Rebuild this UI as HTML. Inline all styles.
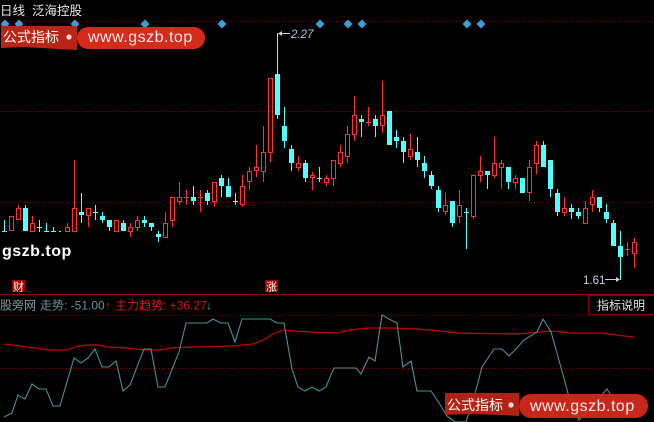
<!DOCTYPE html>
<html><head><meta charset="utf-8"><style>
html,body{margin:0;padding:0;background:#000;}
svg{display:block;}
text{font-family:"Liberation Sans","Noto Sans CJK SC",sans-serif;}
</style></head><body>
<svg width="654" height="422" viewBox="0 0 654 422" xmlns="http://www.w3.org/2000/svg">
<rect width="654" height="422" fill="#000"/>
<g stroke="#a00000" stroke-width="1" stroke-dasharray="1 2" shape-rendering="crispEdges">
<line x1="0" y1="21.5" x2="654" y2="21.5"/>
<line x1="0" y1="111.5" x2="654" y2="111.5"/>
<line x1="0" y1="202.5" x2="654" y2="202.5"/>
<line x1="0" y1="315.5" x2="654" y2="315.5"/>
<line x1="0" y1="368.5" x2="654" y2="368.5"/>
</g>
<line x1="0" y1="294.5" x2="654" y2="294.5" stroke="#a00000" stroke-width="1.2" shape-rendering="crispEdges"/>
<g fill="#3aa0d8">
<polygon points="5,19.5 9.5,24 5,28.5 0.5,24"/>
<polygon points="19,19.5 23.5,24 19,28.5 14.5,24"/>
<polygon points="75,19.5 79.5,24 75,28.5 70.5,24"/>
<polygon points="145,19.5 149.5,24 145,28.5 140.5,24"/>
<polygon points="222,19.5 226.5,24 222,28.5 217.5,24"/>
<polygon points="320,19.5 324.5,24 320,28.5 315.5,24"/>
<polygon points="348,19.5 352.5,24 348,28.5 343.5,24"/>
<polygon points="362,19.5 366.5,24 362,28.5 357.5,24"/>
<polygon points="467,19.5 471.5,24 467,28.5 462.5,24"/>
<polygon points="481,19.5 485.5,24 481,28.5 476.5,24"/>
</g>
<text x="0" y="15" font-size="12.5" fill="#e6e6e6">日线</text>
<text x="32" y="15" font-size="12.5" fill="#e6e6e6">泛海控股</text>
<g stroke="#ff3333" stroke-width="1" fill="#000" shape-rendering="crispEdges">
<path fill="none" d="M11.5 216V231M18.5 205V220M32.5 216V231M67.5 223V231M74.5 160V231M88.5 208V227M116.5 220V231M130.5 223V237M137.5 216V231M165.5 212V237M172.5 197V227M179.5 182V205M186.5 190V205M184 197.5H189M200.5 190V212M198 197.5H203M214.5 182V207M242.5 175V207M249.5 167V190M256.5 145V177M263.5 126V182M270.5 78V162M298.5 156V171M312.5 172V190M326.5 175V186M333.5 160V186M340.5 145V167M347.5 126V163M354.5 96V141M368.5 107V126M366 122.5H371M382.5 81V133M410.5 134V160M445.5 193V215M459.5 190V223M473.5 175V219M480.5 156V182M494.5 137V178M501.5 160V189M515.5 175V189M529.5 160V201M536.5 141V174M564.5 197V216M585.5 201V223M592.5 190V212M627.5 242V256M625 249.5H630M634.5 238V268"/>
<rect x="9.5" y="216.5" width="4" height="14"/>
<rect x="16.5" y="208.5" width="4" height="11"/>
<rect x="30.5" y="223.5" width="4" height="8"/>
<rect x="65.5" y="227.5" width="4" height="4"/>
<rect x="72.5" y="208.5" width="4" height="23"/>
<rect x="86.5" y="208.5" width="4" height="7"/>
<rect x="114.5" y="220.5" width="4" height="11"/>
<rect x="128.5" y="227.5" width="4" height="4"/>
<rect x="135.5" y="220.5" width="4" height="7"/>
<rect x="163.5" y="223.5" width="4" height="14"/>
<rect x="170.5" y="197.5" width="4" height="23"/>
<rect x="177.5" y="197.5" width="4" height="4"/>
<rect x="212.5" y="182.5" width="4" height="19"/>
<rect x="240.5" y="186.5" width="4" height="18"/>
<rect x="247.5" y="171.5" width="4" height="10"/>
<rect x="254.5" y="167.5" width="4" height="3"/>
<rect x="261.5" y="152.5" width="4" height="19"/>
<rect x="268.5" y="78.5" width="4" height="74"/>
<rect x="296.5" y="163.5" width="4" height="4"/>
<rect x="310.5" y="175.5" width="4" height="2"/>
<rect x="324.5" y="178.5" width="4" height="4"/>
<rect x="331.5" y="160.5" width="4" height="18"/>
<rect x="338.5" y="152.5" width="4" height="11"/>
<rect x="345.5" y="134.5" width="4" height="22"/>
<rect x="352.5" y="115.5" width="4" height="19"/>
<rect x="380.5" y="115.5" width="4" height="10"/>
<rect x="408.5" y="149.5" width="4" height="7"/>
<rect x="443.5" y="205.5" width="4" height="6"/>
<rect x="457.5" y="205.5" width="4" height="11"/>
<rect x="471.5" y="175.5" width="4" height="41"/>
<rect x="478.5" y="171.5" width="4" height="4"/>
<rect x="492.5" y="163.5" width="4" height="12"/>
<rect x="499.5" y="163.5" width="4" height="4"/>
<rect x="513.5" y="178.5" width="4" height="4"/>
<rect x="527.5" y="167.5" width="4" height="25"/>
<rect x="534.5" y="145.5" width="4" height="18"/>
<rect x="562.5" y="208.5" width="4" height="4"/>
<rect x="583.5" y="208.5" width="4" height="15"/>
<rect x="590.5" y="197.5" width="4" height="7"/>
<rect x="632.5" y="242.5" width="4" height="11"/>
</g>
<g shape-rendering="crispEdges">
<path stroke="#54ffff" stroke-width="1" fill="none" d="M4.5 220V232M2 231.5H7M25.5 205V231M39.5 220V232M37 227.5H42M46.5 223V231M44 231.5H49M53.5 227V231M51 231.5H56M59 231.5H61M81.5 193V223M95.5 205V220M93 212.5H98M102.5 212V223M109.5 220V231M123.5 220V231M144.5 216V227M151.5 223V231M158.5 231V242M193.5 186V205M207.5 190V205M221.5 175V197M228.5 178V197M235.5 193V205M233 201.5H238M277.5 33V119M284.5 107V148M291.5 145V171M305.5 160V182M319.5 167V182M317 178.5H322M361.5 115V137M375.5 115V137M396.5 130V148M403.5 137V163M417.5 137V167M424.5 156V178M431.5 171V189M438.5 186V212M452.5 201V227M466.5 208V249M464 212.5H469M487.5 171V189M508.5 167V189M522.5 178V193M543.5 141V167M550.5 160V197M557.5 189V216M571.5 204V219M578.5 208V219M599.5 197V212M606.5 204V223M613.5 220V246M620.5 231V280"/>
<g fill="#54ffff">
<rect x="23" y="208" width="5" height="23"/>
<rect x="79" y="212" width="5" height="3"/>
<rect x="100" y="216" width="5" height="4"/>
<rect x="107" y="220" width="5" height="7"/>
<rect x="121" y="223" width="5" height="8"/>
<rect x="142" y="220" width="5" height="3"/>
<rect x="149" y="223" width="5" height="4"/>
<rect x="156" y="234" width="5" height="3"/>
<rect x="191" y="197" width="5" height="4"/>
<rect x="205" y="193" width="5" height="8"/>
<rect x="219" y="178" width="5" height="8"/>
<rect x="226" y="186" width="5" height="11"/>
<rect x="275" y="74" width="5" height="41"/>
<rect x="282" y="126" width="5" height="15"/>
<rect x="289" y="149" width="5" height="14"/>
<rect x="303" y="163" width="5" height="15"/>
<rect x="359" y="119" width="5" height="3"/>
<rect x="373" y="119" width="5" height="7"/>
<rect x="387" y="111" width="5" height="34"/>
<rect x="394" y="137" width="5" height="4"/>
<rect x="401" y="141" width="5" height="11"/>
<rect x="415" y="152" width="5" height="8"/>
<rect x="422" y="163" width="5" height="8"/>
<rect x="429" y="175" width="5" height="11"/>
<rect x="436" y="190" width="5" height="18"/>
<rect x="450" y="201" width="5" height="22"/>
<rect x="485" y="171" width="5" height="4"/>
<rect x="506" y="167" width="5" height="15"/>
<rect x="520" y="178" width="5" height="15"/>
<rect x="541" y="145" width="5" height="22"/>
<rect x="548" y="160" width="5" height="29"/>
<rect x="555" y="193" width="5" height="19"/>
<rect x="569" y="208" width="5" height="4"/>
<rect x="576" y="212" width="5" height="4"/>
<rect x="597" y="197" width="5" height="11"/>
<rect x="604" y="212" width="5" height="7"/>
<rect x="611" y="223" width="5" height="23"/>
<rect x="618" y="246" width="5" height="11"/>
</g>
</g>
<g stroke="#d0d0d0" stroke-width="1" fill="none">
<line x1="280" y1="33.5" x2="290" y2="33.5"/>
<line x1="605" y1="279.5" x2="617" y2="279.5"/>
</g>
<polygon points="278,33.5 282,31 282,36" fill="#d0d0d0"/>
<polygon points="620,279.5 616,277 616,282" fill="#d0d0d0"/>
<text x="291" y="38" font-size="11.5" font-style="italic" fill="#b4c4dc">2.27</text>
<text x="583" y="284" font-size="11.5" fill="#c8d2e2">1.61</text>
<text x="2" y="256" font-size="16" font-weight="bold" fill="#ffffff" letter-spacing="0.5">gszb.top</text>
<rect x="12" y="280" width="13" height="12" fill="#a00000"/>
<text x="13" y="290.5" font-size="11" fill="#ffffff">财</text>
<rect x="265" y="280" width="13" height="12" fill="#a00000"/>
<text x="266" y="290.5" font-size="11" fill="#ffffff">涨</text>
<text x="0" y="309.5" font-size="12" fill="#7f9e9e">股旁网</text>
<text x="40" y="309.5" font-size="12" fill="#5e9699">走势: -51.00</text>
<text x="105" y="309.5" font-size="12" fill="#ff2020">↑</text>
<text x="115" y="309.5" font-size="12" fill="#d41515">主力趋势: +36.27</text>
<text x="206" y="309.5" font-size="12" fill="#3aa08a">↓</text>
<rect x="588.5" y="295.5" width="66" height="19" fill="#000" stroke="#8a0000" stroke-width="1"/>
<text x="597" y="309.5" font-size="12" fill="#e0e0e0">指标说明</text>
<polyline fill="none" stroke="#c80000" stroke-width="1.2" points="4,344 27,347 50,350 68,350 75,347 87,345 98,345 107,347 127,348 143,350 160,350 170,348 190,347 233,346 253,344 263,340 273,334 283,330 293,331 310,332 337,333 351,330 367,328 391,328 417,329 441,331 457,333 517,334 551,331 571,333 601,333 624,336 634,337"/>
<polyline fill="none" stroke="#4a9196" stroke-width="1.1" points="4,417 12,413 18,395 25,399 32,384 39,389 46,389 53,406 60,406 74,358 81,363 88,358 95,349 102,367 109,367 116,361 123,391 130,385 144,349 151,349 158,387 165,387 179,352 186,323 207,323 213,319 221,323 228,323 235,342 242,319 270,319 277,323 284,323 292,369 298,387 305,391 312,387 319,391 326,387 330,377 334,368 356,368 361,374 369,357 375,361 382,315 389,319 397,323 403,367 411,361 417,391 431,391 439,403 447,416 455,422 466,422 476,390 482,367 494,349 502,349 509,356 516,349 524,340 537,332 543,319 551,332 557,353 569,397 579,420 593,405 607,389 620,410 634,400"/>
<polygon points="1,26 77,26 77,50 58,49 24,47 1,48" fill="#b92414"/>
<text x="3" y="42" font-size="14" fill="#ffffff">公式指标</text>
<circle cx="69" cy="37" r="2.6" fill="#f2dede"/>
<rect x="77" y="27" width="128" height="22" rx="11" fill="#d62a1a"/>
<text x="88" y="42" font-size="16" fill="#f6ecec" letter-spacing="0.5">www.gszb.top</text>
<polygon points="445,393 519,393 519,416 500,415 466,414 445,415" fill="#b92414" opacity="0.95"/>
<text x="447" y="410" font-size="14" fill="#ffffff">公式指标</text>
<circle cx="511" cy="405" r="2.6" fill="#f2dede"/>
<rect x="519" y="394" width="129" height="24" rx="12" fill="#d62a1a" opacity="0.93"/>
<text x="530" y="411" font-size="16" fill="#f6ecec" letter-spacing="0.5">www.gszb.top</text>
</svg>
</body></html>
